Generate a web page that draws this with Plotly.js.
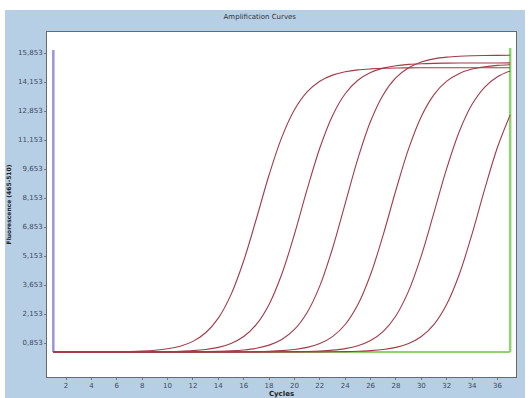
<!DOCTYPE html>
<html>
<head>
<meta charset="utf-8">
<script src="https://cdn.plot.ly/plotly-3.0.1.min.js"></script>
<style>
  html, body { margin: 0; padding: 0; background: #ffffff; width: 530px; height: 398px; overflow: hidden; }
  #chart { position: absolute; left: 5px; top: 10px; width: 520px; height: 388px; }
</style>
</head>
<body>
<div id="chart"></div>
<script>
// Cycle numbers
var cycles = [1,2,3,4,5,6,7,8,9,10,11,12,13,14,15,16,17,18,19,20,21,22,23,24,25,26,27,28,29,30,31,32,33,34,35,36,37];

// Fluorescence readings per sample
var sample1 = [390,391,392,394,397,403,415,437,477,552,688,938,1384,2142,3356,5106,7281,9541,11487,12914,13839,14393,14708,14883,14978,15030,15061,15076,15083,15087,15089,15090,15090,15090,15090,15090,15090];
var sample2 = [390,390,390,391,391,392,393,396,400,409,427,459,519,628,828,1188,1815,2849,4410,6479,8795,10942,12613,13745,14442,14845,15071,15195,15262,15298,15318,15328,15334,15337,15338,15339,15340];
var sample3 = [390,390,390,390,390,390,390,391,391,392,394,398,406,420,445,493,580,743,1036,1555,2432,3808,5743,8065,10387,12322,13698,14575,15094,15387,15550,15637,15685,15711,15725,15732,15735];
var sample4 = [390,390,390,390,390,390,390,390,390,391,391,391,392,393,396,400,409,427,459,518,627,827,1186,1810,2841,4397,6459,8767,10906,12572,13700,14395,14797,15022,15145,15213,15248];
var sample5 = [390,390,390,390,390,390,390,390,390,390,390,390,391,391,391,391,392,394,398,405,417,441,484,564,712,980,1457,2266,3550,5376,7608,9881,11808,13200,14092,14624,14926];
var sample6 = [390,390,390,390,390,390,390,390,390,390,390,390,390,390,390,391,391,391,391,392,393,396,400,410,428,459,519,629,830,1191,1820,2858,4424,6500,8823,10977,12654];

// Marker lines
var baselineLevel = [390, 390];
var baselineCycles = [1, 37];
var startCycle = [1, 1];
var startLevels = [390, 16008];
var endCycle = [37, 37];
var endLevels = [390, 16110];

// Axis ticks
var xTicks = [2,4,6,8,10,12,14,16,18,20,22,24,26,28,30,32,34,36];
var yTickVals = [853,2353,3853,5353,6853,8353,9853,11353,12853,14353,15853];
var yTickText = ["0,853","2,153","3,653","5,153","6,853","8,153","9,653","11,153","12,853","14,153","15,853"];

var samples = [sample1, sample2, sample3, sample4, sample5, sample6];
var curveColor = '#a33a48';

var traces = [];
traces.push({x: baselineCycles, y: baselineLevel, mode: 'lines', line: {color: '#8fd36e', width: 2}, hoverinfo: 'skip'});
traces.push({x: endCycle, y: endLevels, mode: 'lines', line: {color: '#8fd36e', width: 2.5}, hoverinfo: 'skip'});
traces.push({x: startCycle, y: startLevels, mode: 'lines', line: {color: '#9f92da', width: 2.5}, hoverinfo: 'skip'});
samples.forEach(function (s) {
  traces.push({x: cycles, y: s, mode: 'lines', line: {color: curveColor, width: 1.1, shape: 'spline', smoothing: 1}, hoverinfo: 'skip'});
});

var fontFam = 'DejaVu Sans, Liberation Sans, sans-serif';
var layout = {
  width: 520, height: 388,
  paper_bgcolor: '#b7cfe5',
  plot_bgcolor: '#ffffff',
  showlegend: false,
  margin: {l: 42, r: 9, t: 22, b: 21},
  title: {text: 'Amplification Curves', font: {family: fontFam, size: 7, color: '#333333'}, x: 0.49, xanchor: 'center', y: 0.99, yanchor: 'top', yref: 'container'},
  xaxis: {
    range: [0.5, 37.46], tickmode: 'array', tickvals: xTicks,
    ticks: 'outside', ticklen: 2, tickcolor: '#777777',
    showgrid: false, zeroline: false,
    showline: true, mirror: true, linecolor: '#6a6a6a', linewidth: 1,
    tickfont: {family: fontFam, size: 7, color: '#3b4a5e'},
    title: {text: '<b>Cycles</b>', font: {family: fontFam, size: 7, color: '#222222'}, standoff: 0}
  },
  yaxis: {
    range: [-905, 16939], tickmode: 'array', tickvals: yTickVals, ticktext: yTickText,
    ticks: 'outside', ticklen: 2, tickcolor: '#777777',
    showgrid: false, zeroline: false,
    showline: true, mirror: true, linecolor: '#6a6a6a', linewidth: 1,
    tickfont: {family: fontFam, size: 7, color: '#3b4a5e'},
    title: {text: '<b>Fluorescence (465-510)</b>', font: {family: fontFam, size: 6, color: '#222222'}, standoff: 6}
  }
};

Plotly.newPlot('chart', traces, layout, {staticPlot: true, displayModeBar: false});
</script>
</body>
</html>
